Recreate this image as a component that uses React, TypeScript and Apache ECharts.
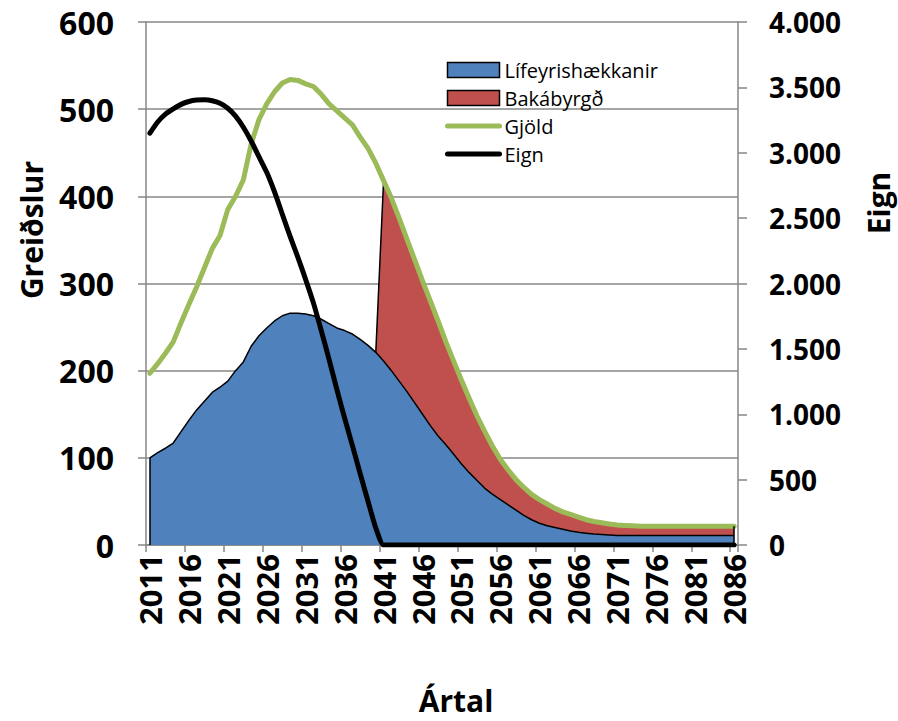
import React, { useEffect, useRef } from 'react';
import * as echarts from 'echarts';

const years = [
  '2011','2012','2013','2014','2015','2016','2017','2018','2019','2020',
  '2021','2022','2023','2024','2025','2026','2027','2028','2029','2030',
  '2031','2032','2033','2034','2035','2036','2037','2038','2039','2040',
  '2041','2042','2043','2044','2045','2046','2047','2048','2049','2050',
  '2051','2052','2053','2054','2055','2056','2057','2058','2059','2060',
  '2061','2062','2063','2064','2065','2066','2067','2068','2069','2070',
  '2071','2072','2073','2074','2075','2076','2077','2078','2079','2080',
  '2081','2082','2083','2084','2085','2086',
];

const lifeyrishaekkanir = [
  100, 106, 111, 117, 130, 143, 155, 165, 175, 181,
  188, 200, 210, 228, 240, 249, 257, 263, 266, 266,
  265, 263, 259, 254, 249, 246, 242, 236, 229, 221,
  211, 200, 188, 176, 163, 150, 137, 125, 115, 104,
  93, 83, 74, 65, 58, 52, 46, 40, 34, 29,
  25, 22, 20, 18, 16, 14.5, 13.5, 12.5, 12, 11.5,
  11, 11, 11, 11, 11, 11, 11, 11, 11, 11,
  11, 11, 11, 11, 11, 11,
];

const bakabyrgd = [
  null, null, null, null, null, null, null, null, null, null,
  null, null, null, null, null, null, null, null, null, null,
  null, null, null, null, null, null, null, null, null, 0,
  207, 198, 187, 175, 164, 153, 143, 132, 118, 107,
  96, 85, 74, 65, 55, 46, 40, 35, 32, 29,
  27, 25, 22, 20, 19, 17.5, 15.5, 14.5, 13.5, 12.5,
  12, 11.5, 11, 10.5, 10.5, 10.5, 10.5, 10.5, 10.5, 10.5,
  10.5, 10.5, 10.5, 10.5, 10.5, 10.5,
];

const gjold = [
  197, 208, 220, 233, 255, 276, 296, 318, 340, 355,
  385, 400, 419, 460, 488, 506, 520, 530, 534, 533,
  529, 526, 517, 506, 498, 490, 482, 468, 455, 438,
  418, 398, 375, 351, 327, 303, 280, 257, 233, 211,
  189, 168, 148, 130, 113, 98, 86, 75, 66, 58,
  52, 47, 42, 38, 35, 32, 29, 27, 25.5, 24,
  23, 22.5, 22, 21.5, 21.5, 21.5, 21.5, 21.5, 21.5, 21.5,
  21.5, 21.5, 21.5, 21.5, 21.5, 21.5,
];

const eign = [
  3150, 3235, 3295, 3335, 3370, 3392, 3403, 3405, 3398, 3378,
  3340, 3280, 3195, 3090, 2970, 2850, 2700, 2530, 2360, 2200,
  2030, 1850, 1640, 1420, 1190, 970, 760, 545, 335, 130,
  0, 0, 0, 0, 0, 0, 0, 0, 0, 0,
  0, 0, 0, 0, 0, 0, 0, 0, 0, 0,
  0, 0, 0, 0, 0, 0, 0, 0, 0, 0,
  0, 0, 0, 0, 0, 0, 0, 0, 0, 0,
  0, 0, 0, 0, 0, 0,
];

const FONT = 'Open Sans';
const GRID_GRAY = '#878787';

export default function App() {
  const ref = useRef<HTMLDivElement>(null);

  useEffect(() => {
    if (!ref.current) return;
    const chart = echarts.init(ref.current, undefined, { renderer: 'svg' });
    const axisLabelStyle = {
      fontFamily: FONT,
      fontWeight: 'bold' as const,
      color: '#000',
    };
    const last = years.length - 1;
    chart.setOption({
      animation: false,
      backgroundColor: '#fff',
      grid: { left: 146, right: 160, top: 22, bottom: 176, containLabel: false },
      legend: {
        orient: 'vertical',
        left: 445,
        top: 60,
        padding: 0,
        itemWidth: 52,
        itemHeight: 15,
        itemGap: 8,
        textStyle: { fontFamily: FONT, fontSize: 20, lineHeight: 20, color: '#000' },
        data: [
          { name: 'Lífeyrishækkanir', icon: 'rect', itemStyle: { color: '#4F81BD', borderColor: '#000', borderWidth: 1.5 } },
          { name: 'Bakábyrgð', icon: 'rect', itemStyle: { color: '#C0504D', borderColor: '#000', borderWidth: 1.5 } },
          {
            name: 'Gjöld',
            itemStyle: { color: 'rgba(0,0,0,0)', borderWidth: 0, opacity: 0 },
            lineStyle: { color: '#9BBB59', width: 5, cap: 'round' },
          },
          {
            name: 'Eign',
            itemStyle: { color: 'rgba(0,0,0,0)', borderWidth: 0, opacity: 0 },
            lineStyle: { color: '#000', width: 5, cap: 'round' },
          },
        ],
      },
      xAxis: {
        type: 'category',
        data: years,
        boundaryGap: true,
        axisLine: { show: true, lineStyle: { color: GRID_GRAY, width: 1.5 } },
        axisTick: { show: true, interval: 4, length: 7, lineStyle: { color: GRID_GRAY, width: 1.5 } },
        axisLabel: { ...axisLabelStyle, interval: 4, rotate: 90, fontSize: 31, margin: 9 },
        splitLine: { show: false },
      },
      yAxis: [
        {
          type: 'value',
          min: 0,
          max: 600,
          interval: 100,
          position: 'left',
          axisLine: { show: true, lineStyle: { color: GRID_GRAY, width: 1.5 } },
          axisTick: { show: true, length: 8, lineStyle: { color: GRID_GRAY, width: 1.5 } },
          axisLabel: { ...axisLabelStyle, fontSize: 32, margin: 32 },
          splitLine: { show: true, lineStyle: { color: GRID_GRAY, width: 1.5 } },
        },
        {
          type: 'value',
          min: 0,
          max: 4000,
          interval: 500,
          position: 'right',
          axisLine: { show: true, lineStyle: { color: GRID_GRAY, width: 1.5 } },
          axisTick: { show: true, length: 9, lineStyle: { color: GRID_GRAY, width: 1.5 } },
          axisLabel: {
            ...axisLabelStyle,
            fontSize: 28,
            margin: 31,
            formatter: (v: number) => String(v).replace(/\B(?=(\d{3})+(?!\d))/g, '.'),
          },
          splitLine: { show: false },
        },
      ],
      graphic: [
        {
          type: 'text',
          x: 31,
          y: 230,
          rotation: Math.PI / 2,
          style: { text: 'Greiðslur', fontFamily: FONT, fontWeight: 'bold', fontSize: 30, fill: '#000', align: 'center', verticalAlign: 'middle' },
        },
        {
          type: 'text',
          x: 878,
          y: 203,
          rotation: Math.PI / 2,
          style: { text: 'Eign', fontFamily: FONT, fontWeight: 'bold', fontSize: 30, fill: '#000', align: 'center', verticalAlign: 'middle' },
        },
        {
          type: 'text',
          x: 456,
          y: 700,
          style: { text: 'Ártal', fontFamily: FONT, fontWeight: 'bold', fontSize: 30, fill: '#000', align: 'center', verticalAlign: 'middle' },
        },
      ],
      series: [
        {
          name: 'Lífeyrishækkanir',
          type: 'line',
          stack: 'greidslur',
          data: lifeyrishaekkanir,
          showSymbol: false,
          symbol: 'none',
          lineStyle: { color: '#000', width: 1.5 },
          itemStyle: { color: '#4F81BD' },
          areaStyle: { color: '#4F81BD', opacity: 1 },
          markLine: {
            silent: true,
            symbol: 'none',
            label: { show: false },
            lineStyle: { color: '#000', width: 1.5, type: 'solid' },
            data: [
              [
                { xAxis: years[0], yAxis: 0 },
                { xAxis: years[0], yAxis: lifeyrishaekkanir[0] },
              ],
              [
                { xAxis: years[last], yAxis: 0 },
                { xAxis: years[last], yAxis: lifeyrishaekkanir[last] + (bakabyrgd[last] as number) },
              ],
            ],
          },
          z: 2,
        },
        {
          name: 'Bakábyrgð',
          type: 'line',
          stack: 'greidslur',
          data: bakabyrgd,
          showSymbol: false,
          symbol: 'none',
          lineStyle: { color: '#000', width: 1.5 },
          itemStyle: { color: '#C0504D' },
          areaStyle: { color: '#C0504D', opacity: 1 },
          z: 2,
        },
        {
          name: 'Gjöld',
          type: 'line',
          data: gjold,
          showSymbol: false,
          symbol: 'none',
          lineStyle: { color: '#9BBB59', width: 5, cap: 'round', join: 'round' },
          itemStyle: { color: '#9BBB59' },
          z: 3,
        },
        {
          name: 'Eign',
          type: 'line',
          yAxisIndex: 1,
          data: eign,
          showSymbol: false,
          symbol: 'none',
          smooth: 0.2,
          lineStyle: { color: '#000', width: 5, cap: 'round', join: 'round' },
          itemStyle: { color: '#000' },
          z: 4,
        },
      ],
    });
    return () => chart.dispose();
  }, []);

  return (
    <div
      ref={ref}
      style={{ position: 'fixed', left: 0, top: 0, width: 898, height: 721, background: '#fff' }}
    />
  );
}
